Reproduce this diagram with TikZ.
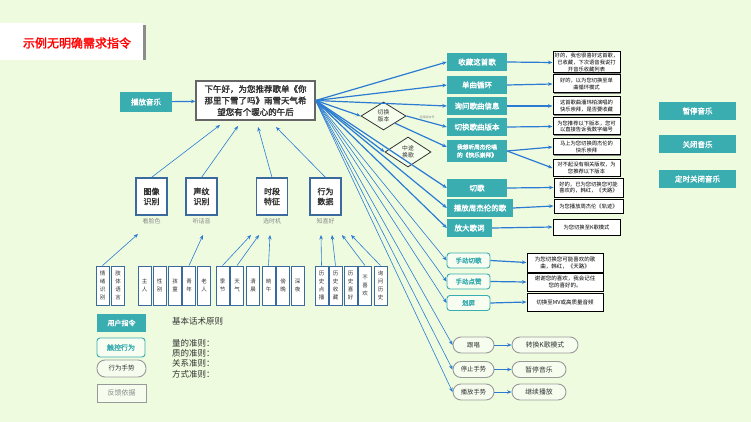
\documentclass[tikz,border=0pt]{standalone}
\usepackage{fontspec}
\setmainfont{Noto Sans CJK SC}[AutoFakeBold=2]
\usetikzlibrary{arrows.meta,shapes.geometric,shadows,calc}
\definecolor{bgc}{HTML}{EEFBDF}
\definecolor{tealc}{HTML}{3AADB0}
\definecolor{linec}{HTML}{2B7BD3}
\definecolor{steel}{HTML}{3A6A9E}
\definecolor{greyt}{HTML}{8A8A8A}
\definecolor{darkt}{HTML}{333333}
\newcommand{\myfs}[2]{\fontsize{#1}{#2}\selectfont}
\tikzset{
 wh/.style 2 args={minimum width=#1pt,minimum height=#2pt},
 tealbtn/.style={fill=tealc,text=white,font=\bfseries\myfs{7.5}{9},inner sep=0pt,align=center},
 midbox/.style={draw=steel,line width=1.2pt,fill=white,text=darkt,font=\bfseries\myfs{8}{10},align=center,inner sep=0pt,minimum width=31pt,minimum height=37pt},
 smallbox/.style={draw=steel,line width=0.9pt,fill=white,text=darkt,font=\myfs{5.5}{8},align=center,inner sep=0pt,minimum width=13pt,minimum height=39pt},
 capt/.style={text=greyt,font=\myfs{6}{7},inner sep=0pt},
 ans/.style={draw=black,line width=1pt,fill=white,drop shadow={shadow xshift=1.3pt,shadow yshift=-1.3pt,fill=black!50,opacity=1},font=\myfs{5.3}{6.8},text=black,align=center,inner sep=0pt},
 touch/.style={draw=tealc,line width=0.9pt,rounded corners=3pt,fill=white!60!bgc,text=tealc,font=\bfseries\myfs{6.5}{8},inner sep=0pt},
 gest/.style={draw=black!40,line width=0.9pt,rounded corners=8pt,fill=white!50!bgc,text=darkt,font=\myfs{6.3}{8},inner sep=0pt},
 dia/.style={diamond,draw=darkt,line width=0.8pt,fill=white!40!bgc,text=darkt,font=\myfs{5.8}{7},align=center,inner sep=0pt},
 arr/.style={-{Stealth[length=4.5pt,width=3.6pt]},draw=linec,line width=0.6pt},
 tarr/.style={arr,line width=1.2pt},
}
\begin{document}
\begin{tikzpicture}[x=1pt,y=-1pt]
\fill[bgc] (0,0) rectangle (751,422);
\useasboundingbox (0,0) rectangle (751,422);
% title
\fill[black!45] (143,25) rectangle (146,60);
\fill[white] (0,23) rectangle (143,60);
\node[font=\bfseries\myfs{12}{14},text=red,inner sep=0] (title) at (77,43) {示例无明确需求指令};

% center
\node[tealbtn,wh={52}{20}] (play) at (146,102) {播放音乐};
\node[draw=black!60,line width=1.2pt,fill=white,text=darkt,font=\bfseries\myfs{8.5}{11.5},align=center,inner sep=0pt,wh={119}{39}] (cb) at (255.5,100.5) {下午好，为您推荐歌单《你\\那里下雪了吗》雨雪天气希\\望您有个暖心的午后};
\draw[tarr] (play) -- (cb);

% middle boxes
\node[midbox] (m1) at (151.5,196.5) {图像\\识别};
\node[midbox] (m2) at (201.5,196.5) {声纹\\识别};
\node[midbox] (m3) at (272,196.5) {时段\\特征};
\node[midbox] (m4) at (325.5,196.5) {行为\\数据};
\node[capt] (c1) at (151.5,221) {看脸色};
\node[capt] (c2) at (201.5,221) {听话音};
\node[capt] (c3) at (272,221) {选时机};
\node[capt] (c4) at (325.5,221) {知喜好};
\coordinate (e1) at (220,125);
\coordinate (e2) at (238,126);
\coordinate (e3) at (258,127);
\coordinate (e4) at (276,127);
\draw[arr] (m1.north) -- (e1);
\draw[arr] (m2.north) -- (e2);
\draw[arr] (m3.north) -- (e3);
\draw[arr] (m4.north) -- (e4);

% small boxes
\node[smallbox] (s1) at (102.5,285.5) {情\\绪\\识\\别};
\node[smallbox] (s2) at (118,285.5) {肢\\体\\语\\言};
\node[smallbox] (s3) at (144.5,285.5) {主\\人};
\node[smallbox] (s4) at (159.5,285.5) {性\\别};
\node[smallbox] (s5) at (175,285.5) {孩\\童};
\node[smallbox] (s6) at (189,285.5) {青\\年};
\node[smallbox] (s7) at (204,285.5) {老\\人};
\node[smallbox] (s8) at (222.5,285.5) {季\\节};
\node[smallbox] (s9) at (237,285.5) {天\\气};
\node[smallbox] (s10) at (253,285.5) {清\\晨};
\node[smallbox] (s11) at (268.5,285.5) {晌\\午};
\node[smallbox] (s12) at (283,285.5) {傍\\晚};
\node[smallbox] (s13) at (297.5,285.5) {深\\夜};
\node[smallbox] (s14) at (321.5,285.5) {历\\史\\点\\播};
\node[smallbox] (s15) at (335.5,285.5) {历\\史\\收\\藏};
\node[smallbox] (s16) at (350.5,285.5) {历\\史\\喜\\好};
\node[smallbox] (s17) at (365,285.5) {不\\喜\\欢};
\node[smallbox] (s18) at (380.5,285.5) {询\\问\\历\\史};
\coordinate (k1) at (138,234);
\coordinate (k2) at (203,235);
\coordinate (k3) at (251,235);
\coordinate (k4) at (259,235);
\coordinate (k5) at (270,235);
\coordinate (k6) at (321,235);
\coordinate (k7) at (332,235);
\coordinate (k8) at (342,235);
\coordinate (k9) at (351,235);
\draw[arr] (s1.north) -- (k1);
\draw[arr] (s6.north) -- (k2);
\draw[arr] (s8.north) -- (k3);
\draw[arr] (s9.north) -- (k4);
\draw[arr] (s11.north) -- (k5);
\draw[arr] (s14.north) -- (k6);
\draw[arr] (s15.north) -- (k7);
\draw[arr] (s17.north) -- (k8);
\draw[arr] (s18.north) -- (k9);

% legend
\node[tealbtn,font=\bfseries\myfs{7}{8},wh={49}{18}] (l1) at (121.5,323) {用户指令};
\node[touch,font=\bfseries\myfs{7}{8},wh={48}{19}] (l2) at (121,347.5) {触控行为};
\node[gest,font=\myfs{6.5}{8},wh={49}{17}] (l3) at (121.5,368.5) {行为手势};
\node[draw=black!40,line width=0.9pt,fill=white!50!bgc,text=greyt,font=\myfs{7}{8},inner sep=0pt,wh={49}{18}] (l4) at (121.5,393) {反馈依据};
\node[anchor=north west,font=\myfs{8.5}{10.3},text=darkt,inner sep=0pt] (rule) at (172,317) {基本话术原则};
\node[anchor=north west,font=\myfs{8.5}{10.3},text=darkt,align=left,inner sep=0pt] (rules) at (172,339) {量的准则：\\质的准则：\\关系准则：\\方式准则：};

% right column commands
\node[tealbtn,wh={60}{18}] (q1) at (477,62) {收藏这首歌};
\node[tealbtn,wh={60}{18}] (q2) at (477,85) {单曲循环};
\node[tealbtn,wh={60}{18}] (q3) at (477,106) {询问歌曲信息};
\node[tealbtn,wh={60}{18}] (q4) at (477,127) {切换歌曲版本};
\node[tealbtn,font=\bfseries\myfs{5.7}{8},align=left,wh={60}{22}] (q5) at (477,151) {我想听周杰伦唱\\的《快乐崇拜》};
\node[tealbtn,wh={60}{18}] (q6) at (477,188) {切歌};
\node[tealbtn,wh={66}{18}] (q7) at (480,208) {播放周杰伦的歌};
\node[tealbtn,wh={45}{18}] (q8) at (469.5,228) {放大歌词};

% answers
\node[ans,wh={67}{21}] (a1) at (586.5,62.5) {好的，我也很喜好这首歌，\\已收藏，下次语音我说打\\开音乐收藏列表};
\node[ans,wh={67}{18}] (a2) at (586.5,84) {好的，以为您切换至单\\曲循环模式};
\node[ans,wh={67}{18}] (a3) at (586.5,106) {这首歌曲潘玮柏演唱的\\快乐崇拜，是否要收藏};
\node[ans,wh={67}{17}] (a4) at (586.5,126.5) {为您推荐以下版本，您可\\以直接告诉我数字编号};
\node[ans,wh={67}{16}] (a5) at (586.5,147) {马上为您切换周杰伦的\\快乐崇拜};
\node[ans,wh={67}{16}] (a6) at (586.5,168) {对不起没有相关版权，为\\您推荐以下版本};
\node[ans,wh={69}{19}] (a7) at (588.5,187.5) {好的，已为您切换您可能\\喜欢的，韩红，《天路》};
\node[ans,wh={69}{14}] (a8) at (588.5,206) {为您播放周杰伦《轨迹》};
\node[ans,wh={67}{16}] (a9) at (586.5,227) {为您切换至K歌模式};

% diamonds
\node[dia,minimum width=45pt,minimum height=28pt] (d1) at (383.5,116) {切换\\版本};
\node[dia,minimum width=46pt,minimum height=30pt] (d2) at (408,152) {中途\\换歌};
\node[text=greyt,font=\myfs{3}{4},inner sep=0pt] (dnote) at (427,117) {选择版本号};

% touch
\node[touch,wh={43}{15}] (t1) at (468.5,260.5) {手动切歌};
\node[touch,wh={43}{15}] (t2) at (468.5,281.5) {手动点赞};
\node[touch,wh={43}{15}] (t3) at (468.5,303) {划屏};
\node[ans,font=\myfs{5.5}{7},wh={76}{19}] (ta1) at (565,262.5) {为您切换您可能喜欢的歌\\曲，韩红，《天路》};
\node[ans,font=\myfs{5.5}{7},wh={76}{18}] (ta2) at (565,282) {谢谢您的喜欢，我会记住\\您的喜好的。};
\node[ans,font=\myfs{5.5}{7},wh={76}{18}] (ta3) at (565,302) {切换至MV或高质量音频};

% gestures
\node[gest,wh={41}{16}] (g1) at (473.5,345) {跟唱};
\node[gest,wh={41}{16}] (g2) at (473.5,369.5) {停止手势};
\node[gest,wh={41}{16}] (g3) at (473.5,392) {播放手势};
\node[gest,font=\myfs{6.8}{8},wh={66}{16}] (r1) at (545,345) {转换K歌模式};
\node[gest,font=\myfs{6.8}{8},wh={54}{16}] (r2) at (539,369.5) {暂停音乐};
\node[gest,font=\myfs{6.8}{8},wh={54}{16}] (r3) at (539,392) {继续播放};

% far right
\node[tealbtn,wh={77}{18}] (f1) at (697.5,111) {暂停音乐};
\node[tealbtn,wh={77}{18}] (f2) at (697.5,144.5) {关闭音乐};
\node[tealbtn,wh={77}{18}] (f3) at (697.5,179) {定时关闭音乐};

% fan from center box
\foreach \t in {q1,q2,q3,d1,d2,q6,q7,q8}{\draw[tarr] (cb.east) -- (\t.west);}
\foreach \t in {t1,t2,t3,g1,g2,g3}{\draw[arr] (cb.east) -- (\t.west);}
\draw[tarr] (d1.east) -- (q4.west);
\draw[tarr] (d1.south east) -- ([yshift=4pt]q5.west);
\draw[tarr] (q5.east) -- (a5.west);
\draw[tarr] (q5.east) -- (a6.west);
\foreach \s/\t in {q1/a1,q2/a2,q3/a3,q4/a4,q6/a7,q7/a8,q8/a9}{\draw[tarr] (\s.east) -- (\t.west);}
\foreach \s/\t in {t1/ta1,t2/ta2,t3/ta3}{\draw[tarr] (\s.east) -- (\t.west);}
\foreach \s/\t in {g1/r1,g2/r2,g3/r3}{\draw[arr,line width=0.9pt] (\s.east) -- (\t.west);}
\end{tikzpicture}
\end{document}
